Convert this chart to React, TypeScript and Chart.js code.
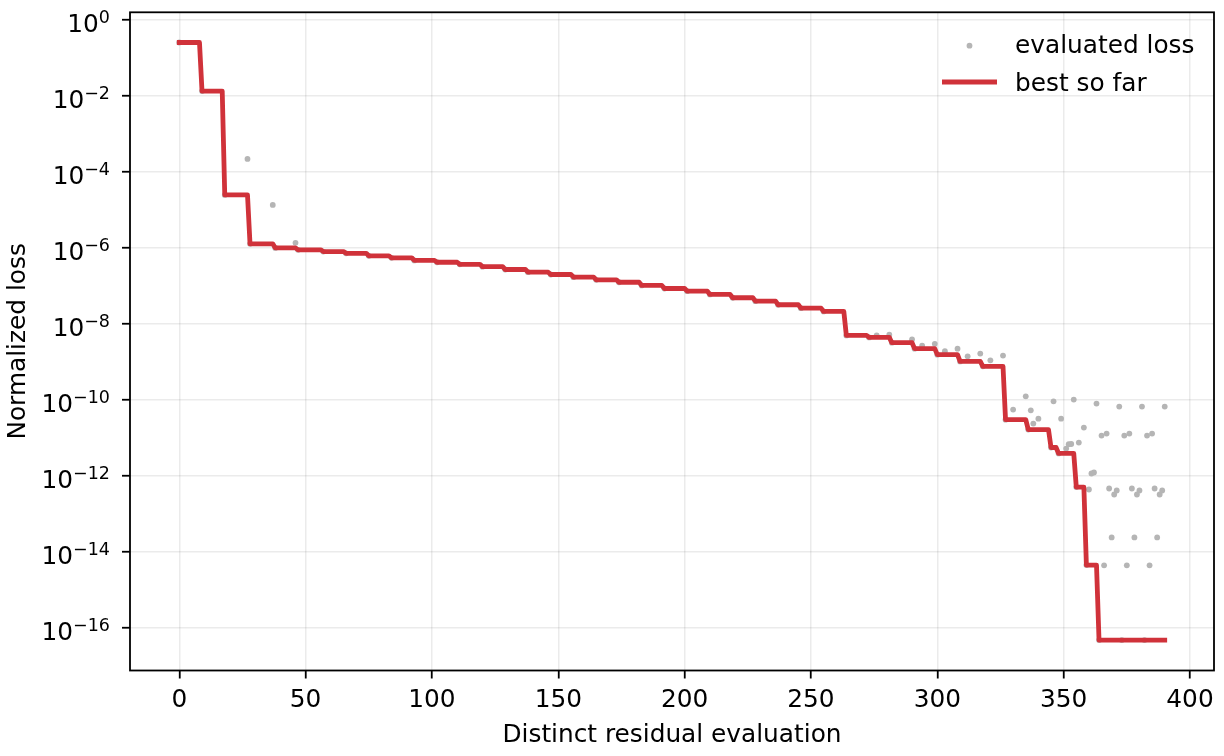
import { useEffect, useRef } from "react";
import { Chart, registerables } from "chart.js";

Chart.register(...registerables);

// evaluation index where a new best loss was found, and that loss
const stepIndex = [0, 9, 18, 28, 38, 47, 57, 66, 75, 84, 93, 102, 111, 120, 129, 138, 147, 156, 165, 174, 183, 192, 201, 210, 219, 228, 237, 246, 255, 264, 273, 282, 291, 300, 309, 318, 327, 336, 345, 348, 355, 359, 364];
const bestLoss = [2.54e-1, 1.34e-2, 2.48e-5, 1.28e-6, 1.0e-6, 8.9e-7, 8.0e-7, 7.2e-7, 6.2e-7, 5.5e-7, 4.7e-7, 4.2e-7, 3.7e-7, 3.2e-7, 2.7e-7, 2.3e-7, 2.0e-7, 1.7e-7, 1.45e-7, 1.25e-7, 1.03e-7, 8.55e-8, 7.26e-8, 5.96e-8, 4.88e-8, 3.97e-8, 3.19e-8, 2.6e-8, 2.13e-8, 4.98e-9, 4.42e-9, 3.2e-9, 2.23e-9, 1.55e-9, 1.03e-9, 7.64e-10, 3.03e-11, 1.66e-11, 5.6e-12, 3.9e-12, 5.1e-13, 4.5e-15, 4.8e-17];
const lastIndex = 390;

// evaluations that did not improve on the best
const evalIndex = [27, 37, 46, 276, 281, 290, 294, 299, 303, 308, 312, 317, 321, 326, 330, 335, 337, 338, 340, 346, 349, 351, 352, 353, 354, 356, 358, 360, 361, 362, 363, 365, 366, 367, 368, 369, 370, 371, 372, 373, 374, 375, 376, 377, 378, 379, 380, 381, 382, 383, 384, 385, 386, 387, 388, 389, 390];
const evalLoss = [2.2e-4, 1.35e-5, 1.36e-6, 5.0e-9, 5.19e-9, 3.91e-9, 2.66e-9, 2.99e-9, 1.91e-9, 2.23e-9, 1.4e-9, 1.66e-9, 1.1e-9, 1.47e-9, 5.56e-11, 1.24e-10, 5.31e-11, 2.38e-11, 3.22e-11, 9.18e-11, 3.22e-11, 5.25e-12, 6.81e-12, 6.92e-12, 1.02e-10, 7.55e-12, 1.87e-11, 4.4e-13, 1.16e-12, 1.23e-12, 8.0e-11, 1.15e-11, 4.43e-15, 1.3e-11, 4.67e-13, 2.41e-14, 3.25e-13, 4.14e-13, 6.67e-11, 4.8e-17, 1.15e-11, 4.43e-15, 1.3e-11, 4.67e-13, 2.41e-14, 3.25e-13, 4.14e-13, 6.67e-11, 4.8e-17, 1.15e-11, 4.43e-15, 1.3e-11, 4.67e-13, 2.41e-14, 3.25e-13, 4.14e-13, 6.67e-11];

const xTicks = [0, 50, 100, 150, 200, 250, 300, 350, 400];
const yTickExponents = [0, -2, -4, -6, -8, -10, -12, -14, -16];

const RED = "#d0323a";
const GREY = "#b5b5b5";
const FONT = '"DejaVu Sans"';
const SIZE = 24.8;

const bestLine: { x: number; y: number }[] = [];
stepIndex.forEach((s, i) => {
    const end = i + 1 < stepIndex.length ? stepIndex[i + 1] - 1 : lastIndex;
    bestLine.push({ x: s, y: bestLoss[i] });
    if (end > s) bestLine.push({ x: end, y: bestLoss[i] });
});

const evalPoints = [
    ...stepIndex.map((s, i) => ({ x: s, y: bestLoss[i] })),
    ...evalIndex.map((s, i) => ({ x: s, y: evalLoss[i] })),
];

const sup = (e: number) => (e < 0 ? "\u2212" + Math.abs(e) : String(e));

const textPlugin = {
    id: "textPlugin",
    afterDraw(chart: any) {
        const { ctx, chartArea: a } = chart;
        const xs = chart.scales.x;
        const ys = chart.scales.y;
        ctx.save();
        ctx.strokeStyle = "#000";
        ctx.lineWidth = 1.8;
        ctx.strokeRect(a.left, a.top, a.right - a.left, a.bottom - a.top);

        ctx.fillStyle = "#000";
        ctx.textBaseline = "alphabetic";
        ctx.font = `${SIZE}px ${FONT}`;
        ctx.textAlign = "center";
        xTicks.forEach((v) => {
            ctx.fillText(String(v), xs.getPixelForValue(v), 707);
        });
        ctx.fillText("Distinct residual evaluation", (a.left + a.right) / 2, 741.5);

        ctx.textAlign = "right";
        yTickExponents.forEach((e) => {
            const py = ys.getPixelForValue(Math.pow(10, e));
            ctx.font = `17.5px ${FONT}`;
            const s = sup(e);
            const w = ctx.measureText(s).width;
            ctx.fillText(s, 110, py + 2.7);
            ctx.font = `${SIZE}px ${FONT}`;
            ctx.fillText("10", 110 - w, py + 12);
        });

        ctx.save();
        ctx.translate(25, (a.top + a.bottom) / 2);
        ctx.rotate(-Math.PI / 2);
        ctx.textAlign = "center";
        ctx.font = `${SIZE}px ${FONT}`;
        ctx.fillText("Normalized loss", 0, 0);
        ctx.restore();

        // legend
        ctx.fillStyle = GREY;
        ctx.beginPath();
        ctx.arc(969.5, 45.7, 2.9, 0, Math.PI * 2);
        ctx.fill();
        ctx.strokeStyle = RED;
        ctx.lineWidth = 4.8;
        ctx.lineCap = "butt";
        ctx.beginPath();
        ctx.moveTo(942, 82);
        ctx.lineTo(997, 82);
        ctx.stroke();
        ctx.fillStyle = "#000";
        ctx.textAlign = "left";
        ctx.font = `${SIZE}px ${FONT}`;
        ctx.fillText("evaluated loss", 1015, 53.3);
        ctx.fillText("best so far", 1015, 91);
        ctx.restore();
    },
};

const LossChart: React.FC = () => {
    const canvasRef = useRef<HTMLCanvasElement | null>(null);

    useEffect(() => {
        if (!canvasRef.current) return;
        const ctx = canvasRef.current.getContext("2d");
        if (!ctx) return;

        const chartInstance = new Chart(ctx, {
            type: "scatter",
            data: {
                datasets: [
                    {
                        type: "line",
                        label: "best so far",
                        data: bestLine,
                        showLine: true,
                        borderColor: RED,
                        borderWidth: 4.8,
                        borderCapStyle: "square",
                        borderJoinStyle: "round",
                        pointRadius: 0,
                        tension: 0,
                        order: 0,
                    },
                    {
                        label: "evaluated loss",
                        data: evalPoints,
                        backgroundColor: GREY,
                        borderWidth: 0,
                        pointRadius: 2.9,
                        order: 1,
                    },
                ],
            } as any,
            options: {
                responsive: false,
                animation: false,
                events: [],
                layout: { padding: { top: 12.3, right: 10, left: 0, bottom: 0 } },
                plugins: {
                    legend: { display: false },
                    tooltip: { enabled: false },
                },
                scales: {
                    x: {
                        type: "linear",
                        min: -19.5,
                        max: 409.5,
                        afterBuildTicks: (scale: any) => {
                            scale.ticks = xTicks.map((v) => ({ value: v }));
                        },
                        afterFit: (scale: any) => {
                            scale.height = 85.5;
                        },
                        ticks: { display: false },
                        border: { display: false },
                        grid: {
                            color: "rgba(0,0,0,0.08)",
                            lineWidth: 1.5,
                            drawTicks: true,
                            tickLength: 8,
                            tickColor: "#000",
                            tickWidth: 1.8,
                        },
                    },
                    y: {
                        type: "logarithmic",
                        min: Math.pow(10, -17.12),
                        max: Math.pow(10, 0.2),
                        afterBuildTicks: (scale: any) => {
                            scale.ticks = yTickExponents.map((e) => ({ value: Math.pow(10, e) }));
                        },
                        afterFit: (scale: any) => {
                            scale.width = 130;
                        },
                        ticks: { display: false },
                        border: { display: false },
                        grid: {
                            color: "rgba(0,0,0,0.08)",
                            lineWidth: 1.5,
                            drawTicks: true,
                            tickLength: 8,
                            tickColor: "#000",
                            tickWidth: 1.8,
                        },
                    },
                },
            } as any,
            plugins: [textPlugin],
        });
        return () => {
            chartInstance.destroy();
        };
    }, []);

    return <canvas ref={canvasRef} width={1224} height={756} style={{ display: "block" }}></canvas>;
};

export default function App() {
    return (
        <div style={{ position: "fixed", left: 0, top: 0, width: 1224, height: 756, background: "#fff" }}>
            <LossChart />
        </div>
    );
}
